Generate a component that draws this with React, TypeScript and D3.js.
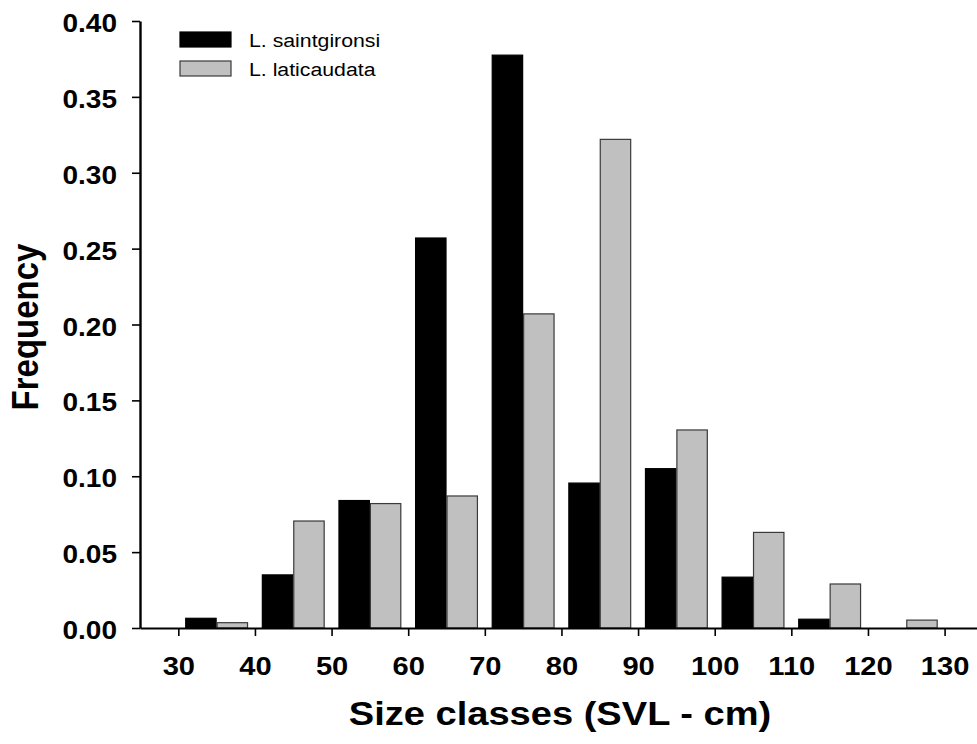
import { useEffect, useRef } from "react"
import * as d3 from "d3"

// Size classes (lower bound of each 10 cm class)
const classes = [30, 40, 50, 60, 70, 80, 90, 100, 110, 120]
const saintgironsi = [0.0064, 0.035, 0.084, 0.257, 0.3775, 0.0955, 0.105, 0.0335, 0.0058, 0.0]
const laticaudata = [0.0035, 0.0705, 0.082, 0.087, 0.207, 0.322, 0.1305, 0.063, 0.029, 0.0052]
const seriesNames = ["L. saintgironsi", "L. laticaudata"]
const xTicks = [30, 40, 50, 60, 70, 80, 90, 100, 110, 120, 130]
const yTicks = [0, 0.05, 0.1, 0.15, 0.2, 0.25, 0.3, 0.35, 0.4]

const fills = ["#000000", "#c0c0c0"]
const strokes = ["#000000", "#3a3a3a"]

// the original export stretches all text a little horizontally
const sx = 1.12

export default function App() {
  const svgRef = useRef<SVGSVGElement>(null)

  useEffect(() => {
    if (!svgRef.current) return
    const svg = d3.select(svgRef.current)
    svg.selectAll("*").remove()

    const font = "Liberation Sans, Arial, sans-serif"

    // Scales
    const x = d3.scaleLinear().domain([25, 135]).range([140, 982.9])
    const y = d3.scaleLinear().domain([0, 0.4]).range([628, 21])
    const sub = d3.scaleBand().domain(seriesNames).paddingInner(0)

    // Bars
    const data = classes.map((c, i) => ({ c, values: [saintgironsi[i], laticaudata[i]] }))
    const groups = svg
      .append("g")
      .selectAll("g")
      .data(data)
      .enter()
      .append("g")
    groups.each(function (d) {
      sub.range([x(d.c + 0.9), x(d.c + 9.1)])
      d3.select(this)
        .selectAll("rect")
        .data(d.values.map((v, k) => ({ v, k })))
        .enter()
        .append("rect")
        .attr("x", (e) => (sub(seriesNames[e.k]) || 0) + 0.5)
        .attr("y", (e) => y(e.v))
        .attr("width", sub.bandwidth() - 1)
        .attr("height", (e) => y(0) - y(e.v))
        .attr("fill", (e) => fills[e.k])
        .attr("stroke", (e) => strokes[e.k])
        .attr("stroke-width", 1.2)
    })

    // X axis
    const gx = svg
      .append("g")
      .attr("transform", `translate(0,${y(0)})`)
      .call(
        d3
          .axisBottom(x)
          .tickValues(xTicks)
          .tickSizeInner(8)
          .tickSizeOuter(0)
          .tickPadding(21)
          .tickFormat((d) => `${d}`),
      )
    gx.select(".domain").attr("stroke", "#000").attr("stroke-width", 2)
    gx.selectAll(".tick line").attr("stroke", "#000").attr("stroke-width", 1.6)
    gx.selectAll("text")
      .attr("font-family", font)
      .attr("font-size", "26px")
      .attr("font-weight", "bold")
      .attr("fill", "#000")
      .attr("transform", `scale(${sx},1)`)

    // Y axis
    const gy = svg
      .append("g")
      .attr("transform", `translate(${x(25)},0)`)
      .call(
        d3
          .axisLeft(y)
          .tickValues(yTicks)
          .tickSizeInner(8)
          .tickSizeOuter(0)
          .tickPadding(15)
          .tickFormat(d3.format(".2f")),
      )
    gy.select(".domain").attr("stroke", "#000").attr("stroke-width", 2.4)
    gy.selectAll(".tick line").attr("stroke", "#000").attr("stroke-width", 1.6)
    gy.selectAll("text")
      .attr("font-family", font)
      .attr("font-size", "25px")
      .attr("font-weight", "bold")
      .attr("fill", "#000")
      .attr("dy", "0.42em")
      .attr("x", 0)
      .attr("transform", `translate(-23,0) scale(${sx},1)`)

    // Axis titles
    svg
      .append("text")
      .attr("transform", `translate(560,725) scale(${sx},1)`)
      .attr("text-anchor", "middle")
      .attr("font-family", font)
      .attr("font-size", "34px")
      .attr("font-weight", "bold")
      .text("Size classes (SVL - cm)")

    svg
      .append("text")
      .attr("transform", `translate(37.5,327) scale(${sx},1) rotate(-90)`)
      .attr("text-anchor", "middle")
      .attr("font-family", font)
      .attr("font-size", "33px")
      .attr("font-weight", "bold")
      .text("Frequency")

    // Legend
    const legend = svg
      .append("g")
      .selectAll("g")
      .data(seriesNames)
      .enter()
      .append("g")
      .attr("transform", (_, i) => `translate(180,${32 + i * 29})`)
    legend
      .append("rect")
      .attr("width", 51)
      .attr("height", 15)
      .attr("fill", (_, i) => fills[i])
      .attr("stroke", (_, i) => strokes[i])
      .attr("stroke-width", 1.2)
    legend
      .append("text")
      .attr("transform", `translate(69,14.5) scale(${sx},1)`)
      .attr("font-family", font)
      .attr("font-size", "19px")
      .attr("fill", "#000")
      .text((d) => d)
  }, [])

  return (
    <div style={{ position: "absolute", left: 0, top: 0 }}>
      <svg ref={svgRef} width={977} height={744} style={{ display: "block", background: "#fff" }}></svg>
    </div>
  )
}
